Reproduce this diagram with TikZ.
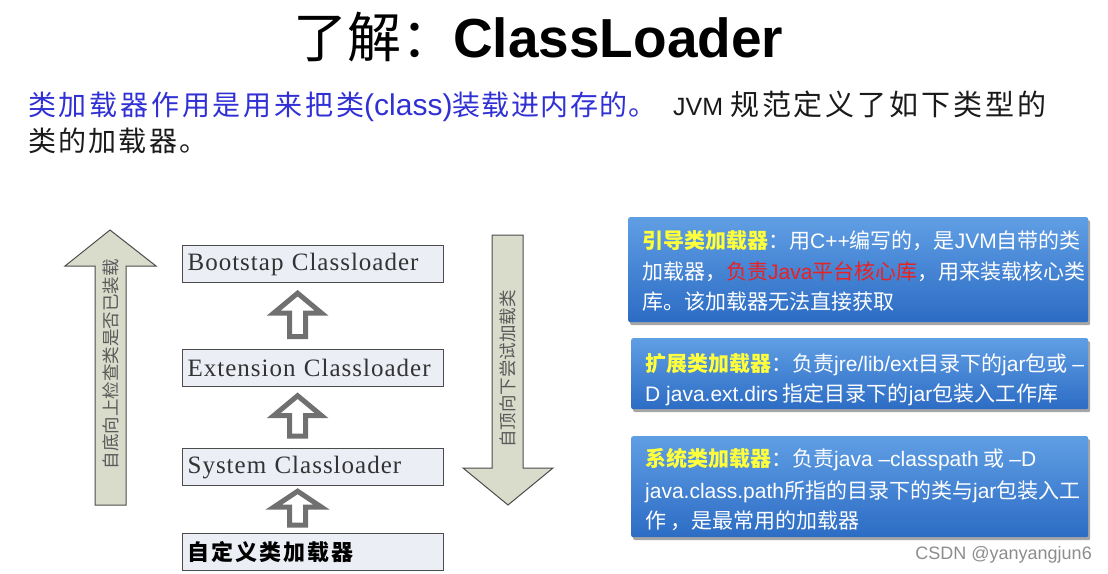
\documentclass[tikz,border=0pt]{standalone}
\usepackage{fontspec}
\setmainfont{Liberation Serif}
\newfontfamily\cjk{Noto Sans CJK SC}
\newfontfamily\arial{Liberation Sans}
\usetikzlibrary{shadows,calc}
\definecolor{titleblue}{RGB}{48,48,212}
\definecolor{darktext}{RGB}{26,26,26}
\definecolor{boxtop}{RGB}{96,158,228}
\definecolor{boxbot}{RGB}{44,108,196}
\definecolor{yel}{RGB}{255,255,60}
\definecolor{redt}{RGB}{235,32,32}
\definecolor{bigfill}{RGB}{217,219,203}
\definecolor{loaderfill}{RGB}{236,238,246}
\definecolor{hollow}{RGB}{112,112,112}
\definecolor{wm}{RGB}{140,140,140}
\newcommand\la[1]{{\arial #1}}
\newcommand\hollowup[5]{% lower node, upper node, tip gap, bottom gap, head height
  \path ($(#2.south)+(-15.5,#3)$) coordinate (T) ($(#1.north)+(-15.5,-#4)$) coordinate (B);
  \draw[hollowarr] (T) -- ++(24,#5) -- ++(-16,0) -- ($(B)+(8,0)$) -- ($(B)+(-8,0)$)
    -- ($(T)+(-8,#5)$) -- ($(T)+(-24,#5)$) -- cycle;}
\begin{document}
\begin{tikzpicture}[x=1pt,y=-1pt,
  loader/.style={draw=black!70, line width=1.2pt, fill=loaderfill, minimum width=261pt,
    minimum height=37pt, inner xsep=5pt, inner ysep=0pt, text width=251pt, align=left,
    anchor=north west, font={\fontsize{25}{28}\selectfont\addfontfeature{LetterSpace=4}}, text=black!80},
  bluebox/.style={anchor=north west, rounded corners=2pt, top color=boxtop, bottom color=boxbot,
    draw=none, drop shadow={shadow xshift=2pt, shadow yshift=-3pt, opacity=0.35, fill=black}},
  bigarrow/.style={draw=black!70, line width=1pt, fill=bigfill, line join=miter},
  hollowarr/.style={draw=hollow, line width=5pt, fill=white, line join=miter},
  btext/.style={anchor=base west, inner sep=0pt, text=white, font={\cjk\fontsize{21}{24}\selectfont}},
  vtext/.style={rotate=90, inner sep=0pt, text=black!65, font={\cjk\fontsize{17.5}{20}\selectfont}},
]
\useasboundingbox (0,0) rectangle (1108,573);

% title
\node[anchor=base west, inner sep=0pt] (t1) at (293,57) {\cjk\fontsize{54}{60}\selectfont 了解：};
\node[anchor=base west, inner sep=0pt] (t2) at (453,57) {\arial\bfseries\fontsize{55}{60}\selectfont ClassLoader};

% intro lines
\node[anchor=base west, inner sep=0pt, text=titleblue] (l1a) at (28,115)
  {\cjk\fontsize{28}{34}\selectfont{\addfontfeature{LetterSpace=10}类加载器作用是用来把类}{\arial\fontsize{30}{34}\selectfont (class)}{\addfontfeature{LetterSpace=5}装载进内存的。}};
\node[anchor=base west, inner sep=0pt, text=darktext] (l1b) at (673,115)
  {\cjk\fontsize{29}{34}\selectfont{\arial\fontsize{25}{30}\selectfont JVM }\addfontfeature{LetterSpace=10}规范定义了如下类型的};
\node[anchor=base west, inner sep=0pt, text=darktext] (l2) at (28,151)
  {\cjk\fontsize{28}{34}\selectfont\addfontfeature{LetterSpace=8}类的加载器。};

% big arrows
\draw[bigarrow] (110,230) -- (156,266) -- (126,266) -- (126,505) -- (95,505) -- (95,266) -- (65,266) -- cycle;
\node[vtext] (upt) at (110.5,364) {自底向上检查类是否已装载};
\draw[bigarrow] (492,235) -- (523,235) -- (523,468) -- (553,468) -- (508,505) -- (463,468) -- (492,468) -- cycle;
\node[vtext] (downt) at (507.5,369) {自顶向下尝试加载类};

% loader boxes
\node[loader] (boot) at (182,245) {Bootstap Classloader};
\node[loader] (ext) at (182,348.5) {Extension Classloader};
\node[loader] (sys) at (182,448) {System Classloader};
\node[loader, font={\cjk\bfseries\fontsize{22}{26}\selectfont\addfontfeature{LetterSpace=9}}, text=black] (cust) at (182,533) {自定义类加载器};

\hollowup{ext}{boot}{10}{12}{20}
\hollowup{sys}{ext}{9}{12}{20}
\hollowup{cust}{sys}{5}{8}{16}

% blue boxes
\node[bluebox, minimum width=460pt, minimum height=105pt] (b1) at (628,217) {};
\node[bluebox, minimum width=457pt, minimum height=71pt] (b2) at (631,338) {};
\node[bluebox, minimum width=457pt, minimum height=101pt] (b3) at (631,436) {};

\node[btext] (b1a) at (642,248) {{\color{yel}\bfseries 引导类加载器}：用\la{C++}编写的，是\la{JVM}自带的类};
\node[btext] (b1b) at (642,279) {加载器，{\color{redt}负责\la{Java}平台核心库}，用来装载核心类};
\node[btext] (b1c) at (642,309) {库。该加载器无法直接获取};

\node[btext] (b2a) at (645,371) {{\color{yel}\bfseries 扩展类加载器}：负责\la{jre/lib/ext}目录下的\la{jar}包或 \la{–}};
\node[btext] (b2b) at (645,401) {\la{D java.ext.dirs} 指定目录下的\la{jar}包装入工作库};

\node[btext] (b3a) at (645,466) {{\color{yel}\bfseries 系统类加载器}：负责\la{java –classpath} 或 \la{–D}};
\node[btext] (b3b) at (645,498) {\la{java.class.path}所指的目录下的类与\la{jar}包装入工};
\node[btext] (b3c) at (645,528) {作 ，是最常用的加载器};

% watermark
\node[anchor=base east, inner sep=0pt, text=wm] (wmk) at (1092,559) {\arial\fontsize{18}{20}\selectfont CSDN @yanyangjun6};
\end{tikzpicture}
\end{document}
